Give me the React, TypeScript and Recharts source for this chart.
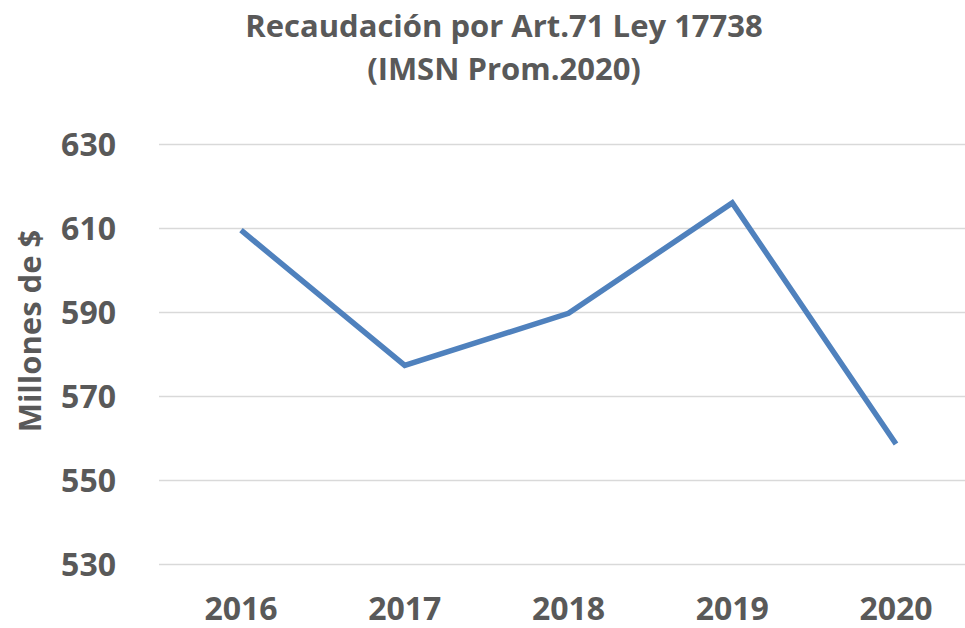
import React from 'react';
import { LineChart, Line, XAxis, YAxis, CartesianGrid } from 'recharts';

const years = ['2016', '2017', '2018', '2019', '2020'];
const recaudacion = [609.6, 577.4, 589.8, 616.1, 558.7];
const yTicks = [530, 550, 570, 590, 610, 630];

const data = years.map((year, i) => ({ year, value: recaudacion[i] }));

const FONT = '"Open Sans", "Liberation Sans", sans-serif';
const GRAY = '#595959';

export default function App() {
  return (
    <div
      style={{
        position: 'fixed',
        left: 0,
        top: 0,
        width: 965,
        height: 628,
        overflow: 'hidden',
        background: '#fff',
        fontFamily: FONT,
      }}
    >
      {/* titulo */}
      <div
        style={{
          position: 'absolute',
          left: 0,
          top: 4,
          width: 1008,
          textAlign: 'center',
          color: GRAY,
          fontWeight: 700,
          fontSize: 31,
          lineHeight: '43px',
        }}
      >
        Recaudación por Art.71 Ley 17738
        <br />
        (IMSN Prom.2020)
      </div>

      {/* eje Y */}
      <div
        style={{
          position: 'absolute',
          left: 29,
          top: 331,
          transform: 'translate(-50%, -50%) rotate(-90deg)',
          whiteSpace: 'nowrap',
          color: GRAY,
          fontWeight: 700,
          fontSize: 31,
        }}
      >
        Millones de $
      </div>

      <div style={{ position: 'absolute', left: 0, top: 0 }}>
        <LineChart
          width={990}
          height={628}
          data={data}
          margin={{ top: 144.5, right: 12, left: 0, bottom: 0 }}
        >
          <CartesianGrid vertical={false} stroke="#d9d9d9" strokeWidth={1.5} />
          <XAxis
            dataKey="year"
            axisLine={false}
            tickLine={false}
            tickSize={0}
            tickMargin={33}
            height={63.5}
            padding={{ left: 82, right: 82 }}
            tick={{ fontSize: 32, fontWeight: 700, fill: GRAY, fontFamily: FONT }}
          />
          <YAxis
            domain={[530, 630]}
            ticks={yTicks}
            width={159}
            axisLine={false}
            tickLine={false}
            tickSize={0}
            tickMargin={43}
            tick={{ fontSize: 32, fontWeight: 700, fill: GRAY, fontFamily: FONT }}
          />
          <Line
            type="linear"
            dataKey="value"
            stroke="#4f81bd"
            strokeWidth={5.5}
            dot={false}
            activeDot={false}
            isAnimationActive={false}
          />
        </LineChart>
      </div>
    </div>
  );
}
